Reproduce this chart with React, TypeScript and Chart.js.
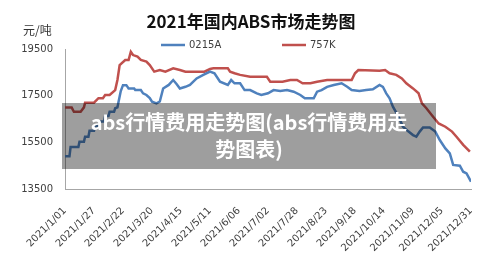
import React, { useEffect, useRef } from "react";
import { Chart, registerables } from "chart.js";

Chart.register(...registerables);

const chartTitle = "2021年国内ABS市场走势图";
const unitLabel = "元/吨";
const overlayLine1 = "abs行情费用走势图(abs行情费用走";
const overlayLine2 = "势图表)";

const tickLabels = [
  "2021/1/01", "2021/1/27", "2021/2/22", "2021/3/20", "2021/4/15",
  "2021/5/11", "2021/6/06", "2021/7/02", "2021/7/28", "2021/8/23",
  "2021/9/18", "2021/10/14", "2021/11/09", "2021/12/05", "2021/12/31",
];

const seriesNames = ["0215A", "757K"];
const seriesColors = ["#4F81BD", "#C0504D"];

// day index (0 = 2021/1/01) and price
const days0215A = [
  0, 4, 5, 12, 13, 17, 18, 21, 22, 26, 27, 30, 31, 35, 36, 39, 40, 44, 45, 47,
  50, 52, 55, 57, 62, 63, 68, 70, 73, 76, 78, 82, 85, 88, 93, 97, 100, 103, 108,
  112, 118, 124, 130, 134, 139, 146, 149, 152, 157, 161, 166, 172, 176, 182,
  187, 193, 199, 205, 211, 215, 223, 226, 230, 235, 241, 248, 253, 257, 264,
  270, 276, 282, 285, 288, 291, 294, 299, 303, 308, 312, 315, 318, 321, 327,
  332, 336, 341, 345, 348, 354, 357, 360, 364,
];
const values0215A = [
  14900, 14900, 15300, 15300, 15530, 15530, 15740, 15740, 16000, 16000, 16200,
  16200, 16390, 16390, 16630, 16630, 16810, 16810, 16960, 17000, 17700, 17950,
  17950, 17810, 17810, 17740, 17740, 17600, 17530, 17400, 17240, 17170, 17250,
  17810, 17960, 18170, 18000, 17810, 17880, 17960, 18240, 18390, 18530, 18460,
  18100, 17960, 18170, 18030, 18030, 17740, 17740, 17600, 17530, 17600, 17740,
  17700, 17740, 17670, 17530, 17390, 17390, 17670, 17740, 17880, 17960, 18030,
  17880, 17740, 17700, 17740, 17770, 17960, 17880, 17600, 17390, 17030, 16600,
  16170, 15960, 15810, 15740, 15960, 16140, 16140, 15960, 15600, 15240, 15030,
  14530, 14500, 14240, 14170, 13810,
];

const days757K = [
  0, 6, 8, 14, 17, 18, 26, 30, 34, 36, 40, 45, 47, 49, 54, 57, 59, 61, 65, 68,
  73, 76, 80, 85, 90, 97, 103, 108, 125, 130, 133, 146, 148, 152, 157, 166,
  181, 184, 195, 202, 208, 213, 220, 226, 235, 257, 260, 263, 282, 287, 291,
  297, 302, 306, 312, 317, 320, 324, 330, 335, 341, 347, 351, 357, 363,
];
const values757K = [
  16990, 16990, 16810, 16810, 17000, 17200, 17200, 17390, 17390, 17530, 17530,
  17740, 18170, 18810, 19030, 19030, 19380, 19240, 19170, 19030, 18960, 18810,
  18530, 18600, 18530, 18670, 18600, 18530, 18530, 18640, 18670, 18670, 18530,
  18460, 18390, 18310, 18310, 18100, 18100, 18170, 18170, 18030, 18030, 18100,
  18170, 18170, 18460, 18600, 18570, 18600, 18460, 18390, 18240, 18030, 17810,
  17600, 17170, 16960, 16600, 16310, 16170, 15960, 15740, 15390, 15100,
];

const FONT = '"DejaVu Sans", sans-serif';
const CJK = '"Noto Sans CJK SC", "DejaVu Sans", sans-serif';

const decorPlugin = {
  id: "decor",
  afterDraw(chart: any) {
    const ctx = chart.ctx;
    ctx.save();
    // title
    ctx.fillStyle = "#111";
    ctx.font = `bold 17px ${CJK}`;
    ctx.textAlign = "center";
    ctx.textBaseline = "middle";
    ctx.fillText(chartTitle, 251, 22);
    // unit
    ctx.fillStyle = "#333";
    ctx.font = `12px ${CJK}`;
    ctx.textAlign = "left";
    ctx.fillText(unitLabel, 23, 30);
    // legend
    const legendX = [161, 282];
    ctx.font = `10px ${FONT}`;
    seriesNames.forEach((name, i) => {
      ctx.strokeStyle = seriesColors[i];
      ctx.lineWidth = 2.5;
      ctx.beginPath();
      ctx.moveTo(legendX[i], 45);
      ctx.lineTo(legendX[i] + 24, 45);
      ctx.stroke();
      ctx.fillStyle = "#404040";
      ctx.fillText(name, legendX[i] + 28, 45);
    });
    ctx.restore();
  },
};

export default function App() {
  const ref = useRef<HTMLCanvasElement>(null);
  useEffect(() => {
    if (!ref.current) return;
    const chart = new Chart(ref.current, {
      type: "line",
      data: {
        datasets: [
          {
            label: seriesNames[0],
            data: days0215A.map((d, i) => ({ x: d, y: values0215A[i] })),
            borderColor: seriesColors[0],
            borderWidth: 2.5,
            pointRadius: 0,
            tension: 0,
          },
          {
            label: seriesNames[1],
            data: days757K.map((d, i) => ({ x: d, y: values757K[i] })),
            borderColor: seriesColors[1],
            borderWidth: 2.5,
            pointRadius: 0,
            tension: 0,
          },
        ],
      },
      options: {
        animation: false,
        responsive: false,
        events: [],
        layout: { padding: { left: 0, right: 29, top: 49, bottom: 0 } },
        plugins: { legend: { display: false }, tooltip: { enabled: false } },
        scales: {
          x: {
            type: "linear",
            min: 0,
            max: 364,
            grid: { display: false, drawTicks: false },
            border: { display: true, color: "#a6a6a6", width: 1 },
            ticks: {
              stepSize: 26,
              autoSkip: false,
              minRotation: 45,
              maxRotation: 45,
              padding: 16,
              color: "#404040",
              font: { size: 10, family: FONT },
              callback: (v: any) => tickLabels[Math.round(Number(v) / 26)] ?? "",
            },
            afterFit: (s: any) => {
              s.height = 84;
            },
          },
          y: {
            min: 13500,
            max: 19500,
            grid: { display: false, drawTicks: false },
            border: { display: true, color: "#a6a6a6", width: 1 },
            ticks: {
              stepSize: 2000,
              padding: 12,
              color: "#404040",
              font: { size: 10, family: FONT },
              callback: (v: any) => String(v),
            },
            afterFit: (s: any) => {
              s.width = 65;
            },
          },
        },
      },
      plugins: [decorPlugin],
    } as any);
    return () => chart.destroy();
  }, []);

  return (
    <div style={{ position: "absolute", left: 0, top: 0, width: 500, height: 273, background: "#fff" }}>
      <canvas ref={ref} width={500} height={273} style={{ display: "block" }} />
      <div
        style={{
          position: "absolute",
          left: 62,
          top: 103,
          width: 374,
          height: 66,
          background: "rgba(0,0,0,0.38)",
          color: "#fff",
          fontFamily: CJK,
          fontWeight: "bold",
          fontSize: 20,
          lineHeight: "27px",
          textAlign: "center",
          paddingTop: 5,
          boxSizing: "border-box",
        }}
      >
        {overlayLine1}
        <br />
        {overlayLine2}
      </div>
    </div>
  );
}
